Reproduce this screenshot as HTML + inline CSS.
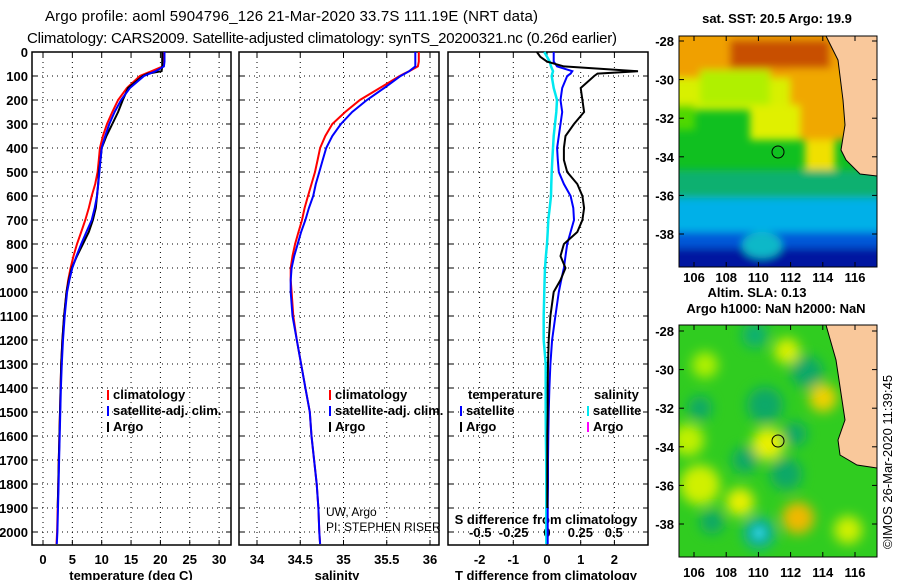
<!DOCTYPE html>
<html><head><meta charset="utf-8"><style>
html,body{margin:0;padding:0;background:#fff;}
svg{display:block;font-family:"Liberation Sans",sans-serif;}
.t{font-weight:bold;font-size:13px;fill:#000;}
</style></head><body>
<svg id="chart" width="900" height="580" viewBox="0 0 900 580" xmlns="http://www.w3.org/2000/svg">
<defs>
<filter id="bl" x="-50%" y="-50%" width="200%" height="200%"><feGaussianBlur stdDeviation="6"/></filter>
<filter id="bl2" x="-50%" y="-50%" width="200%" height="200%"><feGaussianBlur stdDeviation="4"/></filter>
<clipPath id="m1c"><rect x="679" y="36" width="198" height="231"/></clipPath>
<clipPath id="m2c"><rect x="679" y="325" width="198" height="232"/></clipPath>
</defs>
<text x="45" y="21" font-size="15" textLength="493">Argo profile: aoml 5904796_126 21-Mar-2020 33.7S 111.19E (NRT data)</text>
<text x="27" y="43" font-size="15" textLength="590">Climatology: CARS2009. Satellite-adjusted climatology: synTS_20200321.nc (0.26d earlier)</text>
<g id="plots"></g>
<!-- Map 1 -->
<g clip-path="url(#m1c)">
<rect x="679" y="36" width="198" height="231" fill="#10c020"/>
<g filter="url(#bl2)">
<rect x="660" y="20" width="240" height="65" fill="#f0a000"/>
<rect x="660" y="78" width="240" height="32" fill="#d8f000"/>
<rect x="700" y="70" width="70" height="35" fill="#b0f000"/>
<rect x="790" y="70" width="60" height="70" fill="#f0a800"/>
<rect x="730" y="40" width="100" height="28" fill="#c85000"/>
<rect x="660" y="105" width="35" height="25" fill="#50d800"/>
<rect x="750" y="105" width="50" height="35" fill="#e0f000"/>
<rect x="805" y="140" width="30" height="45" fill="#f0e000"/>
<rect x="660" y="170" width="240" height="30" fill="#10b070"/>
<rect x="660" y="198" width="240" height="36" fill="#00b0e8"/>
<rect x="660" y="232" width="240" height="16" fill="#0058d8"/>
<rect x="660" y="248" width="240" height="30" fill="#0018a0"/>
<ellipse cx="762" cy="245" rx="20" ry="13" fill="#10b8c8"/>
</g>
<polygon points="826,36 877,36 877,176 860,174 846,160 841,150 845,125 843,100 838,60" fill="#f9c89b"/>
<polyline points="826,36 838,60 843,100 845,125 841,150 846,160 860,174 877,176" fill="none" stroke="#000" stroke-width="1"/>
<circle cx="778" cy="152" r="6" fill="none" stroke="#000"/>
</g>
<rect x="679" y="36" width="198" height="231" fill="none" stroke="#000"/>
<!-- Map 2 -->
<g clip-path="url(#m2c)">
<rect x="679" y="325" width="198" height="232" fill="#30cc20"/>
<g filter="url(#bl)">
<circle cx="787" cy="351" r="13" fill="#d8f000"/><circle cx="823" cy="398" r="14" fill="#f0d000"/>
<circle cx="768" cy="444" r="16" fill="#e8f000"/><circle cx="700" cy="485" r="20" fill="#d0f000"/>
<circle cx="740" cy="502" r="14" fill="#e8f000"/><circle cx="798" cy="518" r="16" fill="#f0b800"/>
<circle cx="848" cy="530" r="14" fill="#d0f000"/><circle cx="688" cy="440" r="16" fill="#c0f000"/>
<circle cx="705" cy="365" r="13" fill="#b0f000"/>
<circle cx="807" cy="372" r="16" fill="#10a868"/><circle cx="700" cy="408" r="12" fill="#10a868"/>
<circle cx="765" cy="405" r="18" fill="#10a868"/><circle cx="795" cy="434" r="12" fill="#10a868"/>
<circle cx="745" cy="460" r="13" fill="#10a868"/><circle cx="786" cy="474" r="16" fill="#10a868"/>
<circle cx="712" cy="522" r="12" fill="#10a868"/><circle cx="759" cy="533" r="16" fill="#10b0a0"/>
<circle cx="755" cy="335" r="13" fill="#10b070"/>
</g>
<circle cx="759" cy="533" r="6" fill="#30d0d8" filter="url(#bl2)"/>
<polygon points="826,325 877,325 877,468 857,465 840,455 838,440 845,420 842,400 836,360" fill="#f9c89b"/>
<polyline points="826,325 836,360 842,400 845,420 838,440 840,455 857,465 877,468" fill="none" stroke="#000" stroke-width="1"/>
<circle cx="778" cy="441" r="6" fill="none" stroke="#000"/>
</g>
<rect x="679" y="325" width="198" height="232" fill="none" stroke="#000"/>
<text class="t" x="777" y="23" text-anchor="middle">sat. SST: 20.5 Argo: 19.9</text>
<text class="t" x="757" y="297" text-anchor="middle">Altim. SLA: 0.13</text>
<text class="t" x="776" y="313" text-anchor="middle">Argo h1000: NaN h2000: NaN</text>
<text x="892" y="462" font-size="13" text-anchor="middle" transform="rotate(-90 892 462)">©IMOS 26-Mar-2020 11:39:45</text>
<g id="maptx"></g>
</svg>
<script>
// ---- data ----
const depths = [0,20,40,60,80,90,100,150,200,250,300,350,400,450,500,550,600,650,700,750,800,850,900,950,1000,1100,1200,1300,1400,1500,1600,1700,1800,1900,2000,2050];
const tempClim = [20.5,20.5,20.5,20.4,18.5,17.5,16.5,14.3,12.8,11.8,10.9,10.2,9.7,9.5,9.3,8.9,8.3,7.8,7.2,6.5,5.8,5.2,4.7,4.3,4.0,3.6,3.3,3.1,3.0,2.9,2.8,2.7,2.6,2.5,2.4,2.3];
const tempSat  = [20.7,20.7,20.7,20.6,19.2,18.2,17.2,14.8,13.3,12.2,11.3,10.6,10.0,9.8,9.6,9.4,9.2,8.8,8.3,7.4,6.5,5.7,5.0,4.5,4.1,3.7,3.4,3.2,3.05,2.95,2.85,2.75,2.65,2.55,2.45,2.35];
const depthsArgo = [0,20,40,60,80,90,100,150,200,250,300,350,400,450,500,550,600,650,700,750,800,850,900,950,1000,1100,1200,1300,1400,1500,1600,1700,1800,1900];
const tempArgo = [20.3,20.3,20.3,20.3,20.2,17.9,17.0,14.5,13.6,12.8,11.8,10.8,10.0,9.8,9.5,9.4,9.2,9.0,8.5,7.8,6.8,5.8,4.9,4.4,4.0,3.6,3.3,3.1,3.0,2.9,2.8,2.7,2.6,2.5];
const salClim = [35.87,35.87,35.87,35.86,35.76,35.7,35.65,35.42,35.19,35.02,34.87,34.79,34.73,34.7,34.67,34.63,34.59,34.55,34.52,34.48,34.44,34.41,34.39,34.39,34.40,34.42,34.46,34.51,34.56,34.61,34.63,34.66,34.69,34.71,34.72,34.73];
const salSat  = [35.83,35.83,35.83,35.83,35.76,35.71,35.66,35.47,35.27,35.10,34.97,34.87,34.80,34.76,34.72,34.68,34.65,34.6,34.56,34.51,34.47,34.43,34.40,34.39,34.39,34.41,34.46,34.51,34.56,34.61,34.63,34.66,34.69,34.71,34.72,34.73];
const tDiffArgo = [-0.3,-0.2,0.0,0.5,2.7,1.5,1.4,1.0,1.05,1.1,0.8,0.55,0.5,0.5,0.6,0.9,1.05,1.1,1.05,0.9,0.5,0.4,0.55,0.4,0.2,0.1,0.05,0.03,0.02,0.02,0.01,0.01,0.01,0.01];
const tDiffSat = [0.2,0.2,0.2,0.3,0.75,0.7,0.6,0.45,0.4,0.45,0.4,0.35,0.3,0.32,0.35,0.5,0.7,0.78,0.8,0.7,0.6,0.55,0.5,0.42,0.35,0.25,0.15,0.1,0.07,0.05,0.04,0.03,0.03,0.02,0.02,0.02];
const sDiffSat = [-0.02,0.0,0.02,0.03,0.045,0.04,0.035,0.05,0.075,0.07,0.06,0.05,0.045,0.04,0.035,0.032,0.03,0.02,0.01,0.005,0.0,-0.008,-0.015,-0.018,-0.02,-0.025,-0.025,-0.01,-0.01,-0.01,-0.008,-0.006,-0.005,-0.005,-0.005,-0.005];
const depthTicks = [0,100,200,300,400,500,600,700,800,900,1000,1100,1200,1300,1400,1500,1600,1700,1800,1900,2000];
const tempTicks = [0,5,10,15,20,25,30];
const salTicks = [34,34.5,35,35.5,36];
const salTickLabels = ["34","34.5","35","35.5","36"];
const tdTicks = [-2,-1,0,1,2];
const sdTicks = [-0.5,-0.25,0,0.25,0.5];
const sdTickLabels = ["-0.5","-0.25","0","0.25","0.5"];
const latTicks = [-28,-30,-32,-34,-36,-38];
const lonTicks = [106,108,110,112,114,116];

// ---- scales ----
const TOP=52, BOT=545;
const yD = d => 52 + d*0.24;
const xT = t => 43 + t*5.87;
const xS = s => 257 + (s-34)*86.5;
const xTD = v => 547 + v*33.7;
const xSD = v => 547 + v*133.5;
const yLat1 = l => 41 + (-28-l)*19.3;
const yLat2 = l => 331 + (-28-l)*19.3;
const xLon = l => 694 + (l-106)*16.1;

const NS="http://www.w3.org/2000/svg";
const G=document.getElementById('plots');
function mk(tag,attrs,parent){const e=document.createElementNS(NS,tag);for(const k in attrs)e.setAttribute(k,attrs[k]);(parent||G).appendChild(e);return e;}
function txt(x,y,s,anchor,parent){const e=mk('text',{x:x,y:y,class:'t','text-anchor':anchor||'middle'},parent);e.textContent=s;return e;}
function line(xs,ys,col,name,w){const pts=xs.map((v,i)=>xs[i].toFixed(1)+','+ys[i].toFixed(1)).join(' ');
  const p=mk('polyline',{points:pts,fill:'none',stroke:col,'stroke-width':w||2,'stroke-linejoin':'miter'});
  
  
  return p;}

const panels=[{x0:32,x1:231,name:'temperature-panel'},{x0:239,x1:439,name:'salinity-panel'},{x0:448,x1:648,name:'difference-panel'}];
panels.forEach((p,pi)=>{
  const g=mk('g',{});
  
  
  depthTicks.forEach(d=>{ if(d>0){const l=mk('line',{x1:p.x0,x2:p.x1,y1:yD(d),y2:yD(d),stroke:'#000','stroke-dasharray':'1,4'},g);
    
    }
    mk('line',{x1:p.x0,x2:p.x0+5,y1:yD(d),y2:yD(d),stroke:'#000'},g);
    mk('line',{x1:p.x1-5,x2:p.x1,y1:yD(d),y2:yD(d),stroke:'#000'},g);
  });
  const vt = pi==0?tempTicks.map(xT):pi==1?salTicks.map(xS):tdTicks.map(xTD);
  vt.forEach(x=>{const l=mk('line',{x1:x,x2:x,y1:TOP,y2:BOT,stroke:'#000','stroke-dasharray':'1,4'},g);
    
    
    mk('line',{x1:x,x2:x,y1:TOP,y2:TOP+5,stroke:'#000'},g);mk('line',{x1:x,x2:x,y1:BOT-5,y2:BOT,stroke:'#000'},g);});
  const r=mk('rect',{x:p.x0,y:TOP,width:p.x1-p.x0,height:BOT-TOP,fill:'none',stroke:'#000','stroke-width':1.5},g);
  
  
});
depthTicks.forEach(d=>{const t=txt(28,yD(d)+5,String(d),'end');
  
  });
tempTicks.forEach(v=>{const t=txt(xT(v),564,String(v));
  
  });
salTicks.forEach((v,i)=>{const t=txt(xS(v),564,salTickLabels[i]);
  
  });
tdTicks.forEach(v=>{const t=txt(xTD(v),564,String(v));
  
  });
sdTicks.forEach((v,i)=>{const t=txt(xSD(v),537,sdTickLabels[i]);
  
  });
let a=txt(131,580,'temperature (deg C)');
a=txt(337,580,'salinity');
a=txt(546,580,'T difference from climatology');
a=txt(546,524,'S difference from climatology');

// series
line(tempClim.map(xT),depths.map(yD),'#ff0000','temp-climatology-line');
line(tempArgo.map(xT),depthsArgo.map(yD),'#000000','temp-argo-line');
line(tempSat.map(xT),depths.map(yD),'#0000ff','temp-satellite-line');
line(salClim.map(xS),depths.map(yD),'#ff0000','salinity-climatology-line');
line(salSat.map(xS),depths.map(yD),'#0000ff','salinity-satellite-line');
line(sDiffSat.map(xSD),depths.map(yD),'#00e8f0','sdiff-satellite-line',2.5);
line(tDiffSat.map(xTD),depths.map(yD),'#0000ff','tdiff-satellite-line');
line(tDiffArgo.map(xTD),depthsArgo.map(yD),'#000000','tdiff-argo-line');

// legends
function leg(x,y,col,label,name){const g=mk('g',{});
  
  
  mk('rect',{x:x,y:y-9,width:2,height:10,fill:col},g);
  const t=txt(x+6,y,label,'start',g);t.setAttribute('font-weight','bold');}
leg(107,399,'#ff0000','climatology','legend-climatology');
leg(107,415,'#0000ff','satellite-adj. clim.','legend-satellite-adj');
leg(107,431,'#000','Argo','legend-argo');
leg(329,399,'#ff0000','climatology','legend-sal-climatology');
leg(329,415,'#0000ff','satellite-adj. clim.','legend-sal-satellite-adj');
leg(329,431,'#000','Argo','legend-sal-argo');
a=txt(468,399,'temperature','start');
leg(460,415,'#0000ff','satellite','legend-tdiff-satellite');
leg(460,431,'#000','Argo','legend-tdiff-argo');
a=txt(594,399,'salinity','start');
leg(587,415,'#00e8f0','satellite','legend-sdiff-satellite');
leg(587,431,'#ff00ff','Argo','legend-sdiff-argo');
a=mk('text',{x:326,y:516,'font-size':12});a.textContent='UW, Argo';
a=mk('text',{x:326,y:531,'font-size':12});a.textContent='PI: STEPHEN RISER';

// map ticks
const MT=document.getElementById('maptx');
[[yLat1,36,267,282],[yLat2,325,557,577]].forEach(([yl,t,b,ly])=>{
  latTicks.forEach(l=>{const y=yl(l);mk('line',{x1:679,x2:684,y1:y,y2:y,stroke:'#000'},MT);mk('line',{x1:872,x2:877,y1:y,y2:y,stroke:'#000'},MT);
    const tt=txt(674,y+5,String(l),'end',MT);
    
    });
  lonTicks.forEach(l=>{const x=xLon(l);mk('line',{x1:x,x2:x,y1:t,y2:t+5,stroke:'#000'},MT);mk('line',{x1:x,x2:x,y1:b-5,y2:b,stroke:'#000'},MT);
    const tt=txt(x,ly,String(l),'middle',MT);
    
    });
});
</script>
</body></html>
